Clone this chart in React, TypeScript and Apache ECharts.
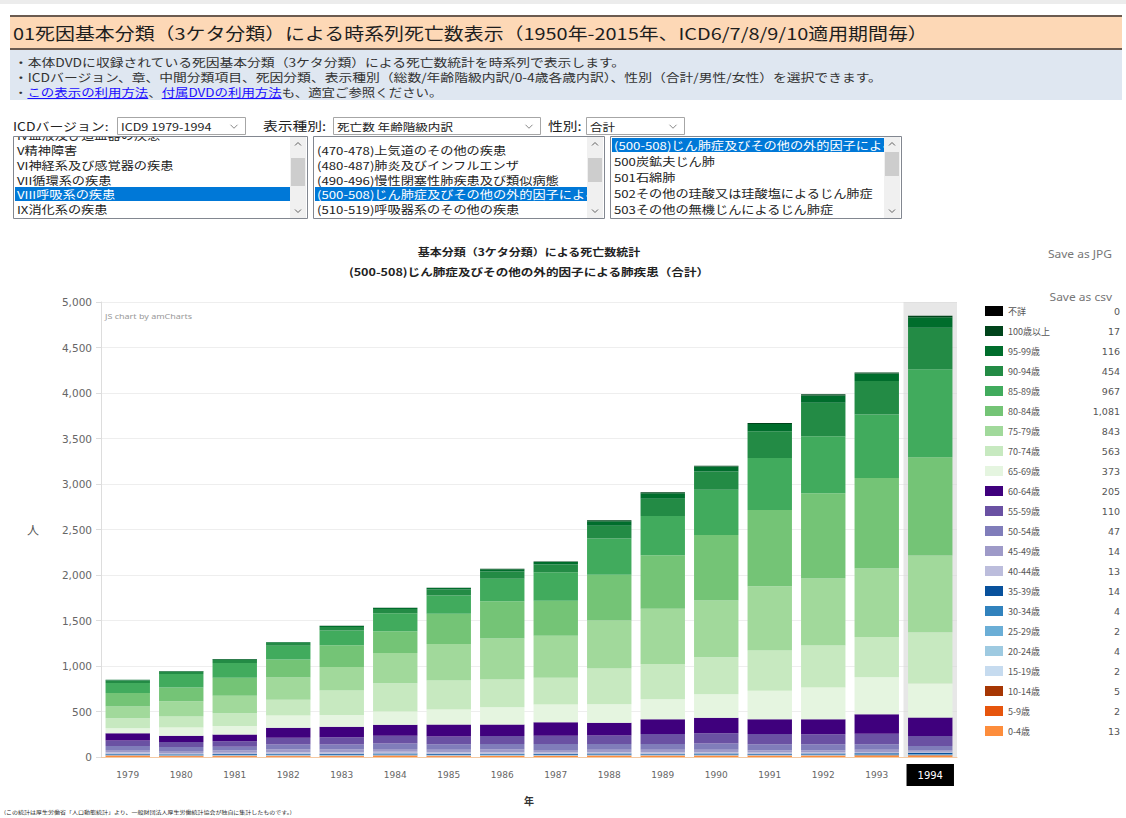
import React, { useEffect, useRef } from "react";
import * as echarts from "echarts";

// ---------- data ----------
const years = ["1979", "1980", "1981", "1982", "1983", "1984", "1985", "1986", "1987", "1988", "1989", "1990", "1991", "1992", "1993", "1994"];

// age groups, bottom of the stack first
const ageGroups = ["0-4歳", "5-9歳", "10-14歳", "15-19歳", "20-24歳", "25-29歳", "30-34歳", "35-39歳", "40-44歳", "45-49歳", "50-54歳", "55-59歳", "60-64歳", "65-69歳", "70-74歳", "75-79歳", "80-84歳", "85-89歳", "90-94歳", "95-99歳", "100歳以上", "不詳"];

const age0to4 = [10, 8, 8, 9, 8, 10, 9, 10, 10, 12, 11, 12, 11, 12, 13, 13];
const age5to9 = [2, 2, 2, 2, 2, 2, 2, 2, 2, 2, 2, 2, 2, 2, 2, 2];
const age10to14 = [4, 3, 3, 3, 3, 4, 3, 3, 3, 3, 3, 3, 3, 3, 3, 5];
const age15to19 = [2, 2, 2, 2, 2, 2, 2, 2, 2, 2, 2, 2, 2, 2, 2, 2];
const age20to24 = [3, 2, 3, 3, 3, 3, 3, 2, 2, 3, 3, 2, 3, 3, 3, 4];
const age25to29 = [3, 3, 3, 3, 3, 3, 3, 3, 3, 2, 3, 3, 2, 2, 2, 2];
const age30to34 = [4, 4, 4, 5, 5, 5, 4, 5, 4, 4, 4, 4, 4, 4, 4, 4];
const age35to39 = [8, 7, 8, 9, 10, 10, 9, 9, 9, 10, 9, 10, 9, 10, 11, 14];
const age40to44 = [15, 14, 14, 16, 16, 18, 16, 16, 15, 14, 14, 14, 13, 13, 14, 13];
const age45to49 = [25, 22, 24, 30, 30, 32, 30, 30, 28, 28, 28, 28, 25, 24, 25, 14];
const age50to54 = [45, 42, 43, 55, 55, 60, 60, 62, 65, 62, 65, 67, 65, 65, 62, 47];
const age55to59 = [60, 55, 58, 75, 80, 85, 85, 88, 90, 95, 110, 115, 115, 110, 115, 110];
const age60to64 = [80, 70, 75, 110, 115, 120, 130, 125, 150, 140, 160, 170, 160, 165, 215, 205];
const age65to69 = [55, 90, 95, 135, 130, 147, 166, 191, 195, 202, 221, 258, 313, 350, 405, 373];
const age70to74 = [110, 120, 140, 173, 270, 310, 320, 305, 294, 394, 386, 405, 442, 460, 442, 563];
const age75to79 = [129, 170, 190, 243, 258, 331, 400, 449, 460, 526, 607, 626, 707, 736, 754, 843];
const age80to84 = [147, 150, 200, 199, 239, 239, 331, 410, 386, 504, 589, 718, 839, 938, 994, 1081];
const age85to89 = [110, 147, 160, 150, 160, 200, 202, 247, 313, 397, 430, 497, 570, 626, 699, 967];
const age90to94 = [28, 25, 35, 30, 40, 45, 65, 80, 85, 142, 190, 202, 294, 368, 368, 454];
const age95to99 = [8, 7, 8, 8, 10, 12, 17, 25, 28, 50, 62, 53, 80, 80, 80, 116];
const age100plus = [1, 1, 1, 2, 2, 2, 3, 5, 5, 10, 10, 10, 12, 12, 12, 17];
const ageUnknown = [0, 0, 0, 0, 0, 0, 0, 0, 0, 0, 0, 0, 0, 0, 0, 0];

const seriesValues = [age0to4, age5to9, age10to14, age15to19, age20to24, age25to29, age30to34, age35to39, age40to44, age45to49, age50to54, age55to59, age60to64, age65to69, age70to74, age75to79, age80to84, age85to89, age90to94, age95to99, age100plus, ageUnknown];

const groupColors = ["#fd8d3c", "#e6550d", "#a63603", "#c6dbef", "#9ecae1", "#6baed6", "#3182bd", "#08519c", "#bcbddc", "#9e9ac8", "#807dba", "#6a51a3", "#3f007d", "#e5f5e0", "#c7e9c0", "#a1d99b", "#74c476", "#41ab5d", "#238b45", "#006d2c", "#00441b", "#000000"];

const yTicks = [0, 500, 1000, 1500, 2000, 2500, 3000, 3500, 4000, 4500, 5000];
const highlightIndex = 15; // 1994

// page texts
const pageTitle = "01死因基本分類（3ケタ分類）による時系列死亡数表示（1950年-2015年、ICD6/7/8/9/10適用期間毎）";
const infoLine1 = "・本体DVDに収録されている死因基本分類（3ケタ分類）による死亡数統計を時系列で表示します。";
const infoLine2 = "・ICDバージョン、章、中間分類項目、死因分類、表示種別（総数/年齢階級内訳/0-4歳各歳内訳）、性別（合計/男性/女性）を選択できます。";
const chartTitle1 = "基本分類（3ケタ分類）による死亡数統計";
const chartTitle2 = "(500-508)じん肺症及びその他の外的因子による肺疾患（合計）";
const listChapters = ["IV血液及び造血器の疾患", "V精神障害", "VI神経系及び感覚器の疾患", "VII循環系の疾患", "VIII呼吸系の疾患", "IX消化系の疾患"];
const listMiddle = ["(470-478)上気道のその他の疾患", "(480-487)肺炎及びインフルエンザ", "(490-496)慢性閉塞性肺疾患及び類似病態", "(500-508)じん肺症及びその他の外的因子による", "(510-519)呼吸器系のその他の疾患"];
const listCauses = ["(500-508)じん肺症及びその他の外的因子による", "500炭鉱夫じん肺", "501石綿肺", "502その他の珪酸又は珪酸塩によるじん肺症", "503その他の無機じんによるじん肺症"];
const footnote = "(この統計は厚生労働省「人口動態統計」より、一般財団法人厚生労働統計協会が独自に集計したものです。)";

const FONT = '"Noto Sans CJK JP", "Noto Sans", sans-serif';
const SX = 1.2;

let measureCtx: CanvasRenderingContext2D | null = null;
function measure(t: string, size: number): number {
  if (!measureCtx) measureCtx = document.createElement("canvas").getContext("2d");
  if (!measureCtx) return t.length * size;
  measureCtx.font = `${size}px ${FONT}`;
  return measureCtx.measureText(t).width * SX;
}

function txt(text: string, x: number, y: number, size: number, fill = "#222", extra: any = {}) {
  return {
    type: "text",
    x,
    y,
    scaleX: SX,
    silent: true,
    style: { text, fontSize: size, fontFamily: FONT, fill, verticalAlign: "middle", ...extra },
  };
}

function rect(x: number, y: number, w: number, h: number, style: any) {
  return { type: "rect", silent: true, shape: { x, y, width: w, height: h }, style };
}

function chevron(cx: number, cy: number, up: boolean, color = "#777", s = 3.5) {
  const d = up ? -1 : 1;
  return {
    type: "polyline",
    silent: true,
    shape: { points: [[cx - s, cy - d * s / 2], [cx, cy + d * s / 2], [cx + s, cy - d * s / 2]] },
    style: { stroke: color, lineWidth: 1, fill: null },
  };
}

function selectBox(x: number, y: number, w: number, h: number, label: string) {
  return [
    rect(x + 0.5, y + 0.5, w, h, { fill: "#fff", stroke: "#a6a6a6", lineWidth: 1 }),
    txt(label, x + 4, y + h / 2 + 1, 10.5, "#222"),
    chevron(x + w - 11, y + h / 2 + 1, false, "#888", 3.5),
  ];
}

function listRows(x: number, w: number, rows: string[], centers: number[], sel: number) {
  const out: any[] = [];
  rows.forEach((r, i) => {
    if (i === sel) out.push(rect(x + 2, centers[i] - 7, w - 19, 14, { fill: "#0078d7" }));
    out.push(txt(r, x + 4, centers[i] + 0.5, 11, i === sel ? "#fff" : "#222"));
  });
  return out;
}

function listFrame(x: number, y: number, w: number, h: number, thumbY: number, thumbH: number) {
  const sbx = x + w - 17;
  return [
    rect(sbx, y + 1, 16, h - 1, { fill: "#f0f0f0" }),
    rect(sbx + 1, thumbY, 14, thumbH, { fill: "#cdcdcd" }),
    chevron(sbx + 8, y + 8, true, "#606060", 3),
    chevron(sbx + 8, y + h - 7, false, "#606060", 3),
    rect(x + 0.5, y + 0.5, w, h, { fill: null, stroke: "#828790", lineWidth: 1 }),
  ];
}

function buildGraphic() {
  const g: any[] = [];
  // top shade
  g.push(rect(0, 0, 1126, 4, { fill: "#ececec" }));
  // listbox rows first (masked afterwards)
  g.push(...listRows(13, 294, listChapters, [135, 150, 165, 180, 194, 209], 4));
  g.push(...listRows(313, 291, listMiddle, [150, 165, 180, 194, 209], 3));
  g.push(...listRows(610, 291, listCauses, [145, 161, 177, 193, 209], 0));
  // masks
  g.push(rect(0, 101, 1126, 35.5, { fill: "#fff" }));
  g.push(rect(0, 218.5, 1126, 18, { fill: "#fff" }));
  // header
  g.push(rect(10, 16, 1112, 33, { fill: "#fdd8b6" }));
  g.push(rect(10, 15, 1112, 2, { fill: "#6b5b50" }));
  g.push(rect(10, 48, 1112, 2, { fill: "#6b5b50" }));
  g.push(txt(pageTitle, 13, 33, 16.6, "#1e1e1e"));
  // info box
  g.push(rect(10, 50, 1112, 50, { fill: "#dfe7f1" }));
  g.push(txt(infoLine1, 14, 62, 11.5, "#333"));
  g.push(txt(infoLine2, 14, 77, 11.5, "#333"));
  // line 3 with links
  const segs: [string, boolean][] = [["・", false], ["この表示の利用方法", true], ["、", false], ["付属DVDの利用方法", true], ["も、適宜ご参照ください。", false]];
  let cx = 14;
  segs.forEach(([s, link]) => {
    const w = measure(s, 11.2);
    g.push(txt(s, cx, 92, 11.2, link ? "#1a0dff" : "#333"));
    if (link) g.push({ type: "line", silent: true, shape: { x1: cx, y1: 98.5, x2: cx + w, y2: 98.5 }, style: { stroke: "#1a0dff", lineWidth: 1 } });
    cx += w;
  });
  // controls
  g.push(txt("ICDバージョン:", 13, 126, 11.6, "#222"));
  g.push(...selectBox(117, 117, 128, 17, "ICD9 1979-1994"));
  g.push(txt("表示種別:", 263, 126, 12.3, "#222"));
  g.push(...selectBox(333, 117, 207, 17, "死亡数 年齢階級内訳"));
  g.push(txt("性別:", 548, 126, 12.3, "#222"));
  g.push(...selectBox(586, 117, 98, 17, "合計"));
  // list frames
  g.push(...listFrame(13, 136, 294, 82, 158, 28));
  g.push(...listFrame(313, 136, 291, 82, 158, 24));
  g.push(...listFrame(610, 136, 291, 82, 152, 24));
  // chart titles
  g.push(txt(chartTitle1, 529, 251, 10, "#222", { textAlign: "center", fontWeight: "bold" }));
  g.push(txt(chartTitle2, 529, 271, 10.5, "#222", { textAlign: "center", fontWeight: "bold" }));
  // export links
  g.push(txt("Save as JPG", 1112, 254, 10, "#777", { textAlign: "right", fontFamily: "Noto Sans" }));
  g.push(txt("Save as csv", 1112, 297, 10, "#777", { textAlign: "right", fontFamily: "Noto Sans" }));
  g.push(txt("JS chart by amCharts", 105, 316, 7.5, "#999", { fontFamily: "Noto Sans" }));
  // footnote
  g.push(txt(footnote, 4, 812, 5, "#222"));
  return g;
}

function fmt(v: number) {
  return v.toLocaleString("en-US");
}

export default function App() {
  const ref = useRef<HTMLDivElement>(null);
  useEffect(() => {
    if (!ref.current) return;
    const chart = echarts.init(ref.current, null, { renderer: "svg" });
    const lastValue: Record<string, number> = {};
    ageGroups.forEach((g, i) => (lastValue[g] = seriesValues[i][highlightIndex]));
    const series = ageGroups.map((g, i) => ({
      type: "bar",
      name: g,
      stack: "total",
      data: seriesValues[i],
      barCategoryGap: "17%",
      silent: true,
      itemStyle: { color: groupColors[i] },
      emphasis: { disabled: true },
      z: 3,
    }));
    chart.setOption({
      animation: false,
      backgroundColor: "#fff",
      textStyle: { fontFamily: FONT },
      grid: { left: 101, right: 169, top: 302, bottom: 61 },
      legend: {
        orient: "vertical",
        left: 985,
        top: 306,
        padding: 0,
        itemWidth: 18,
        itemHeight: 10,
        itemGap: 10,
        icon: "rect",
        selectedMode: false,
        data: ageGroups.slice().reverse(),
        formatter: (name: string) => `{n|${name}}{v|${fmt(lastValue[name])}}`,
        textStyle: {
          fontSize: 9,
          color: "#555",
          lineHeight: 10,
          rich: {
            n: { width: 62, fontSize: 9, color: "#555", lineHeight: 10, fontFamily: FONT },
            v: { width: 50, align: "right", fontSize: 9.5, color: "#555", lineHeight: 10, fontFamily: "DejaVu Sans" },
          },
        },
      },
      xAxis: {
        type: "category",
        data: years,
        axisLine: { lineStyle: { color: "#f3c9a2" } },
        axisTick: { alignWithLabel: true, length: 4, lineStyle: { color: "#dddddd" } },
        axisLabel: { color: "#666", fontSize: 9, fontFamily: "DejaVu Sans", margin: 13 },
        name: "年",
        nameLocation: "middle",
        nameGap: 38,
        nameTextStyle: { fontWeight: "bold", fontSize: 10, color: "#333" },
        axisPointer: {
          show: true,
          type: "shadow",
          value: highlightIndex,
          status: "show",
          triggerOn: "none",
          z: 1,
          shadowStyle: { color: "rgba(215,215,215,0.6)" },
          label: {
            show: true,
            backgroundColor: "#000",
            color: "#fff",
            fontSize: 10,
            fontFamily: "DejaVu Sans",
            padding: [6, 11, 6, 11],
            margin: 7,
            borderRadius: 0,
          },
        },
      },
      yAxis: {
        type: "value",
        min: yTicks[0],
        max: yTicks[yTicks.length - 1],
        interval: 500,
        axisLine: { show: true, lineStyle: { color: "#dddddd" } },
        axisTick: { show: true, length: 5, lineStyle: { color: "#dddddd" } },
        splitLine: { lineStyle: { color: "#eeeeee" } },
        axisLabel: { color: "#666", fontSize: 10.5, fontFamily: "DejaVu Sans", margin: 9, formatter: (v: number) => fmt(v) },
        name: "人",
        nameLocation: "middle",
        nameGap: 62,
        nameRotate: 0,
        nameTextStyle: { color: "#555", fontSize: 12 },
      },
      graphic: buildGraphic(),
      series,
    });
    return () => chart.dispose();
  }, []);
  return <div ref={ref} style={{ position: "fixed", left: 0, top: 0, width: 1126, height: 818, background: "#fff" }} />;
}
